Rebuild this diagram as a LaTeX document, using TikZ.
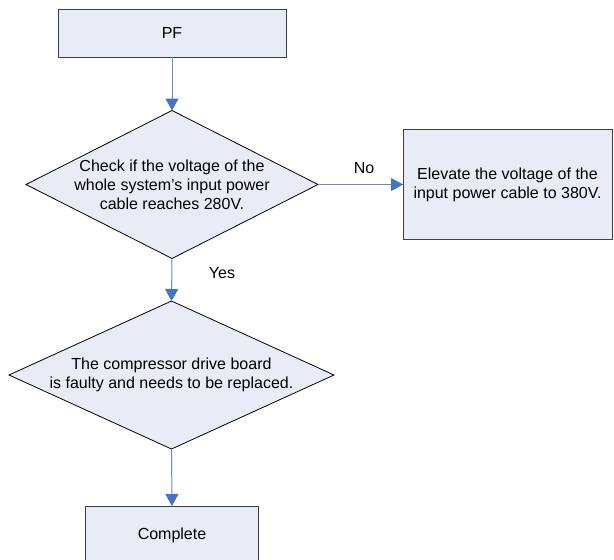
\documentclass[tikz,border=0pt]{standalone}
\usepackage{fontspec}
\setmainfont{Liberation Sans}
\usetikzlibrary{arrows.meta,shapes.geometric}
\definecolor{boxfill}{RGB}{232,236,247}
\definecolor{boxline}{RGB}{64,64,64}
\definecolor{arrline}{RGB}{95,140,205}
\definecolor{arrhead}{RGB}{68,114,196}
\begin{document}
\begin{tikzpicture}[x=1pt,y=-1pt,
  box/.style={draw=boxline, fill=boxfill, line width=1pt, inner sep=0pt, outer sep=0pt, align=center, font=\fontsize{16}{19}\selectfont},
  dia/.style={diamond, draw=black, fill=boxfill, line width=0.8pt, inner sep=0pt, outer sep=0pt},
  txt/.style={align=center, inner sep=0pt, font=\fontsize{16}{19}\selectfont},
  conn/.style={draw=arrline, line width=1pt, -{Triangle[length=12pt,width=13pt,fill=arrhead,color=arrhead]}}]
\useasboundingbox (0,0) rectangle (614,560);
\fill[white] (0,0) rectangle (614,560);
\node[box, minimum width=228pt, minimum height=48pt] (pf) at (172,33) {PF};
\node[dia, minimum width=292pt, minimum height=148pt] (d1) at (172,184.5) {};
\node[txt] (t1) at (d1.center) {Check if the voltage of the\\whole system's input power\\cable reaches 280V.};
\node[box, minimum width=209pt, minimum height=110pt] (el) at (507.5,184.5) {Elevate the voltage of the\\input power cable to 380V.};
\node[dia, minimum width=325pt, minimum height=148pt] (d2) at (171.5,375) {};
\node[txt] (t2) at (d2.center) {The compressor drive board\\is faulty and needs to be replaced.};
\node[box, minimum width=173pt, minimum height=58pt] (cp) at (172,535) {Complete};
\node[txt] (no) at (364,168) {No};
\node[txt] (yes) at (222,273) {Yes};
\draw[conn] (pf.south) -- (d1.north);
\draw[conn] (d1.east) -- (el.west);
\draw[conn] (d1.south) -- (d2.north);
\draw[conn] (d2.south) -- (cp.north);
\end{tikzpicture}
\end{document}
